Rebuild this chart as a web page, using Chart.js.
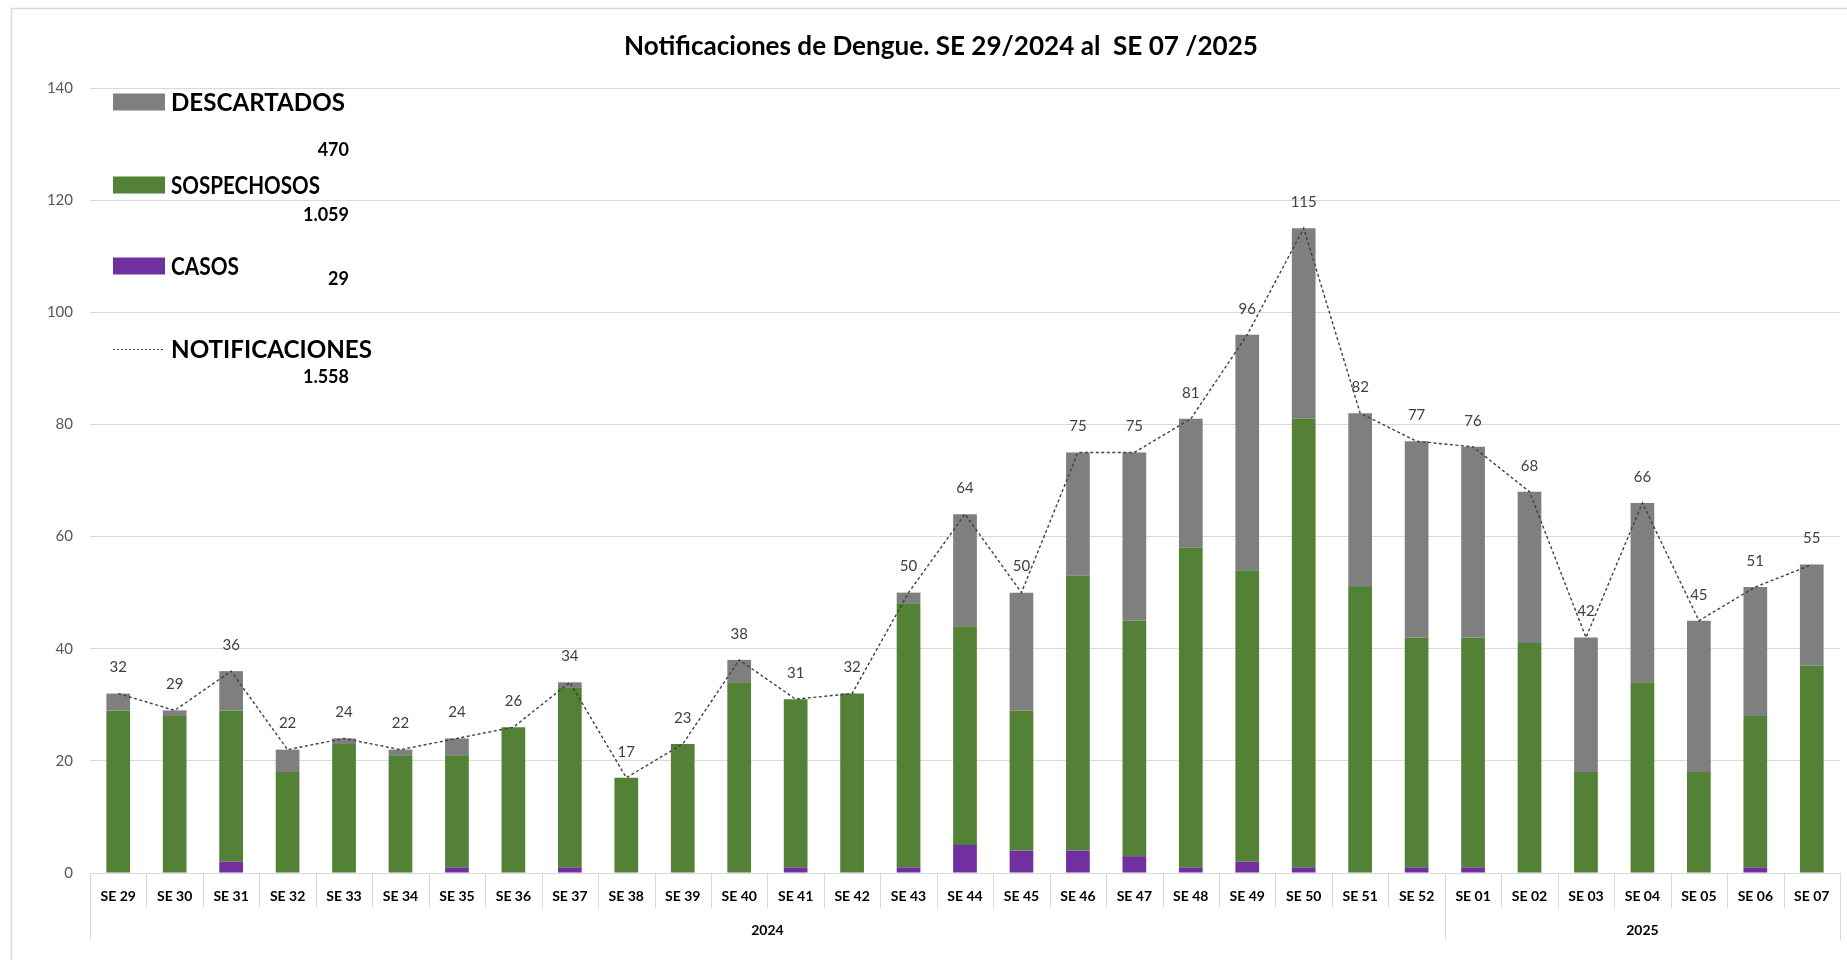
<!DOCTYPE html>
<html>
<head>
<meta charset="utf-8">
<script src="https://cdn.jsdelivr.net/npm/chart.js@4.4.1/dist/chart.umd.min.js"></script>
<style>
  html, body { margin: 0; padding: 0; background: #ffffff; }
  #wrap { width: 1847px; height: 960px; }
</style>
</head>
<body>
<div id="wrap"><canvas id="c" width="1847" height="960"></canvas></div>
<script>
const weeks = ['SE 29','SE 30','SE 31','SE 32','SE 33','SE 34','SE 35','SE 36','SE 37','SE 38','SE 39','SE 40','SE 41','SE 42','SE 43','SE 44','SE 45','SE 46','SE 47','SE 48','SE 49','SE 50','SE 51','SE 52','SE 01','SE 02','SE 03','SE 04','SE 05','SE 06','SE 07'];
const years = ['2024', '2025'];
const weeksPerYear = [24, 7];
const casos = [0,0,2,0,0,0,1,0,1,0,0,0,1,0,1,5,4,4,3,1,2,1,0,1,1,0,0,0,0,1,0];
const sospechosos = [29,28,27,18,23,21,20,26,32,17,23,34,30,32,47,39,25,49,42,57,52,80,51,41,41,41,18,34,18,27,37];
const descartados = [3,1,7,4,1,1,3,0,1,0,0,4,0,0,2,20,21,22,30,23,42,34,31,35,34,27,24,32,27,23,18];
const notificaciones = [32,29,36,22,24,22,24,26,34,17,23,38,31,32,50,64,50,75,75,81,96,115,82,77,76,68,42,66,45,51,55];
const titleText = 'Notificaciones de Dengue. SE 29/2024 al  SE 07 /2025';
const seriesNames = ['DESCARTADOS', 'SOSPECHOSOS', 'CASOS', 'NOTIFICACIONES'];

const COL_GRAY = '#7f7f7f';
const COL_GREEN = '#538135';
const COL_PURPLE = '#7030a0';
const COL_LINE = '#404040';
const COL_GRID = '#d9d9d9';

function fmt(n) {
  return String(n).replace(/\B(?=(\d{3})+(?!\d))/g, '.');
}
function sum(a) { return a.reduce((s, v) => s + v, 0); }

const decorPlugin = {
  id: 'decor',
  beforeDraw(chart) {
    const ctx = chart.ctx;
    ctx.save();
    ctx.fillStyle = '#ffffff';
    ctx.fillRect(0, 0, chart.width, chart.height);
    ctx.strokeStyle = COL_GRID;
    ctx.lineWidth = 1.5;
    ctx.beginPath();
    ctx.moveTo(11.5, 970);
    ctx.lineTo(11.5, 8.5);
    ctx.lineTo(1860, 8.5);
    ctx.stroke();
    ctx.restore();
  },
  afterDraw(chart) {
    const ctx = chart.ctx;
    const xs = chart.scales.x;
    const area = chart.chartArea;
    const step = xs.getPixelForValue(1) - xs.getPixelForValue(0);
    ctx.save();
    ctx.strokeStyle = COL_GRID;
    ctx.lineWidth = 1;
    const groupEdges = [0];
    let acc = 0;
    weeksPerYear.forEach(n => { acc += n; groupEdges.push(acc); });
    for (let i = 0; i <= weeks.length; i++) {
      const x = Math.round(xs.getPixelForValue(i) - step / 2) + 0.5;
      const long = groupEdges.includes(i);
      ctx.beginPath();
      ctx.moveTo(x, area.bottom);
      ctx.lineTo(x, area.bottom + (long ? 67 : 35));
      ctx.stroke();
    }
    ctx.fillStyle = '#000000';
    ctx.font = 'bold 14px Lato';
    ctx.textAlign = 'center';
    ctx.textBaseline = 'middle';
    let start = 0;
    years.forEach((y, k) => {
      const end = start + weeksPerYear[k] - 1;
      const cx = (xs.getPixelForValue(start) + xs.getPixelForValue(end)) / 2;
      ctx.fillText(y, cx, area.bottom + 57);
      start += weeksPerYear[k];
    });
    const meta = chart.getDatasetMeta(3);
    ctx.fillStyle = '#404040';
    ctx.font = '15px Lato';
    meta.data.forEach((pt, i) => {
      ctx.fillText(String(notificaciones[i]), pt.x, pt.y - 26);
    });
    ctx.fillStyle = '#000000';
    ctx.font = 'bold 27px Lato';
    ctx.fillText(titleText, 941, 46, 634);
    const rows = [
      { name: seriesNames[0], color: COL_GRAY, y: 102, total: fmt(sum(descartados)), ty: 150 },
      { name: seriesNames[1], color: COL_GREEN, y: 185, total: fmt(sum(sospechosos)), ty: 215 },
      { name: seriesNames[2], color: COL_PURPLE, y: 266, total: fmt(sum(casos)), ty: 279 },
      { name: seriesNames[3], color: null, y: 349, total: fmt(sum(notificaciones)), ty: 377 }
    ];
    const widths = [174, 149, 68, 201];
    rows.forEach((r, k) => {
      if (r.color) {
        ctx.fillStyle = r.color;
        ctx.fillRect(113, r.y - 8.5, 52, 17);
      } else {
        ctx.strokeStyle = COL_LINE;
        ctx.lineWidth = 1;
        ctx.setLineDash([2, 2]);
        ctx.beginPath();
        ctx.moveTo(113, r.y + 0.5);
        ctx.lineTo(165, r.y + 0.5);
        ctx.stroke();
        ctx.setLineDash([]);
      }
      ctx.fillStyle = '#000000';
      ctx.font = 'bold 25px Lato';
      ctx.textAlign = 'left';
      ctx.fillText(r.name, 171, r.y + 1, widths[k]);
      ctx.font = 'bold 18px Lato';
      ctx.textAlign = 'right';
      ctx.fillText(r.total, 349, r.ty);
    });
    ctx.restore();
  }
};

new Chart(document.getElementById('c'), {
  data: {
    labels: weeks,
    datasets: [
      { type: 'bar', label: 'CASOS', data: casos, backgroundColor: COL_PURPLE, order: 1, stack: 'bars' },
      { type: 'bar', label: 'SOSPECHOSOS', data: sospechosos, backgroundColor: COL_GREEN, order: 1, stack: 'bars' },
      { type: 'bar', label: 'DESCARTADOS', data: descartados, backgroundColor: COL_GRAY, order: 1, stack: 'bars' },
      { type: 'line', label: 'NOTIFICACIONES', data: notificaciones, borderColor: COL_LINE, borderWidth: 1.4,
        borderDash: [3, 2.5], pointRadius: 0, fill: false, tension: 0, order: 0, stack: 'line' }
    ]
  },
  options: {
    responsive: false,
    animation: false,
    layout: { padding: { top: 88, right: 7, bottom: 0, left: 0 } },
    datasets: { bar: { categoryPercentage: 1, barPercentage: 0.42 } },
    plugins: { legend: { display: false }, tooltip: { enabled: false }, title: { display: false } },
    scales: {
      x: {
        stacked: true,
        grid: { display: true, drawOnChartArea: false, drawTicks: false },
        border: { display: true, color: COL_GRID, width: 1 },
        ticks: { autoSkip: false, maxRotation: 0, minRotation: 0, padding: 15, color: '#000000',
                 font: { family: 'Lato', size: 14, weight: 'bold' } },
        afterFit(s) { s.height = 87; }
      },
      y: {
        stacked: true,
        min: 0, max: 140,
        ticks: { stepSize: 20, padding: 17, color: '#595959', font: { family: 'Lato', size: 15 } },
        grid: { color: COL_GRID, lineWidth: 1, drawTicks: false },
        border: { display: false },
        afterFit(s) { s.width = 90; }
      }
    }
  },
  plugins: [decorPlugin]
});
</script>
</body>
</html>
